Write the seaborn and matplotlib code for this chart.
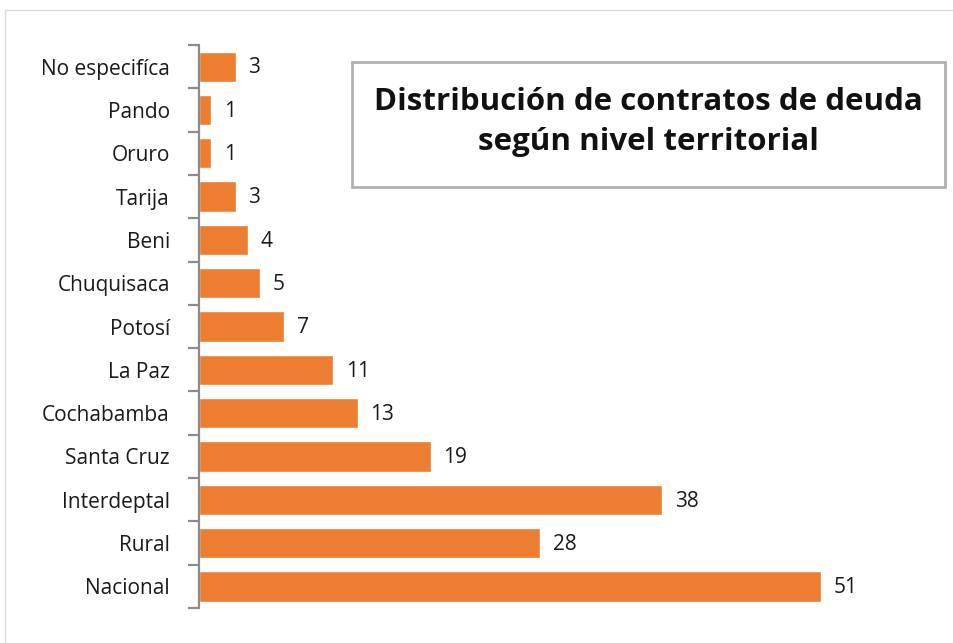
import numpy as np
import pandas as pd
import matplotlib
matplotlib.use("Agg")
import matplotlib.pyplot as plt
import seaborn as sns
from matplotlib.patches import Rectangle

categorias = ["No especifíca", "Pando", "Oruro", "Tarija", "Beni", "Chuquisaca",
              "Potosí", "La Paz", "Cochabamba", "Santa Cruz", "Interdeptal",
              "Rural", "Nacional"]
contratos = [3, 1, 1, 3, 4, 5, 7, 11, 13, 19, 38, 28, 51]

df = pd.DataFrame({"nivel": categorias, "contratos": contratos})

sns.set_style("white")
plt.rcParams["font.family"] = ["Open Sans", "DejaVu Sans"]

fig = plt.figure(figsize=(9.54, 6.43), dpi=100)
ax = fig.add_axes([0.2086, 0.0544, 0.767, 0.8756])

sns.barplot(data=df, x="contratos", y="nivel", order=categorias,
            color="#ED7D31", saturation=1, width=0.7, ax=ax)

for i, v in enumerate(contratos):
    ax.text(v + 1.05, i + 0.03, str(v), va="center", ha="left", fontsize=15, color="#1a1a1a")

ax.set_xlim(0, 60)
ax.set_ylim(len(categorias) - 0.5, -0.5)
ax.set_xlabel("")
ax.set_ylabel("")
ax.set_xticks([])
for s in ["top", "right", "bottom"]:
    ax.spines[s].set_visible(False)
ax.spines["left"].set_color("#8c8c8c")
ax.spines["left"].set_linewidth(1.6)
ax.set_yticks(np.arange(len(categorias) + 1) - 0.5, minor=True)
ax.tick_params(axis="y", which="major", left=False, length=0, pad=21, labelsize=15, labelcolor="#1a1a1a")
ax.tick_params(axis="y", which="minor", left=True, length=8, width=1.6, color="#8c8c8c")

# caja del titulo
fig.patches.append(Rectangle((352 / 954, 1 - 187 / 643), 593 / 954, 125 / 643,
                             transform=fig.transFigure, facecolor="white",
                             edgecolor="#b0b0b0", linewidth=2, zorder=5))
fig.text(648 / 954, 1 - 122 / 643, "Distribución de contratos de deuda\nsegún nivel territorial",
         ha="center", va="center", fontsize=22.5, fontweight="bold", linespacing=1.45,
         color="#111111", zorder=6)

# marco exterior
fig.patches.append(Rectangle((5 / 954, -0.01), 1, 1 - 10 / 643 + 0.01,
                             transform=fig.transFigure, facecolor="none",
                             edgecolor="#dcdcdc", linewidth=1, zorder=0))

fig.savefig("out.png", dpi=100)
